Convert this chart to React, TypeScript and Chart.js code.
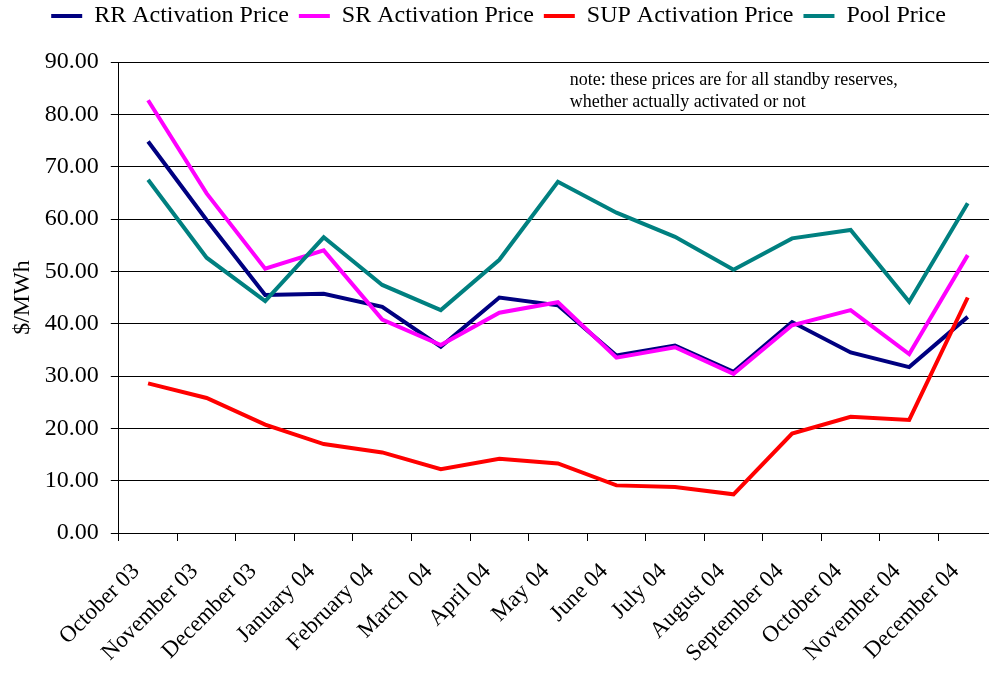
import React, { useEffect, useRef } from "react";
import { Chart, registerables } from "chart.js";

Chart.register(...registerables);

const categories = [
  "October 03", "November 03", "December 03", "January 04", "February 04", "March  04",
  "April 04", "May 04", "June 04", "July 04", "August 04", "September 04",
  "October 04", "November 04", "December 04",
];
const rrActivation = [74.8, 59.8, 45.5, 45.7, 43.2, 35.6, 45.0, 43.5, 33.9, 35.8, 30.8, 40.3, 34.5, 31.7, 41.3];
const srActivation = [82.7, 64.9, 50.5, 54.0, 40.8, 35.9, 42.1, 44.1, 33.5, 35.5, 30.4, 39.7, 42.6, 34.2, 53.1];
const supActivation = [28.6, 25.8, 20.7, 17.0, 15.4, 12.2, 14.2, 13.3, 9.1, 8.8, 7.4, 19.0, 22.2, 21.6, 45.0];
const poolPrice = [67.5, 52.6, 44.3, 56.5, 47.4, 42.6, 52.2, 67.1, 61.2, 56.6, 50.3, 56.3, 57.9, 44.2, 63.0];
const noteLines = [
  "note: these prices are for all standby reserves,",
  "whether actually activated or not",
];

const FONT = "'Liberation Serif', 'Times New Roman', serif";

export default function App() {
  const ref = useRef<HTMLCanvasElement | null>(null);
  useEffect(() => {
    if (!ref.current) return;
    const font = { family: FONT, size: 24 };
    const mk = (label: string, data: number[], color: string, order: number) => ({
      label,
      data,
      borderColor: color,
      backgroundColor: color,
      borderWidth: 4,
      pointRadius: 0,
      tension: 0,
      order,
    });
    const legendSpacer = {
      id: "legendSpacer",
      beforeInit(chart: any) {
        const orig = chart.legend.fit;
        chart.legend.fit = function () {
          orig.bind(chart.legend)();
          this.height += 24;
        };
      },
    };
    const notePlugin = {
      id: "note",
      afterDraw(chart: any) {
        const { ctx, chartArea } = chart;
        ctx.save();
        ctx.font = `18px ${FONT}`;
        ctx.fillStyle = "#000";
        ctx.textBaseline = "alphabetic";
        ctx.textAlign = "left";
        noteLines.forEach((t, i) => {
          ctx.fillText(t, chartArea.left + 451, chartArea.top + 23 + i * 22);
        });
        ctx.restore();
      },
    };
    const chart = new Chart(ref.current, {
      type: "line",
      data: {
        labels: categories,
        datasets: [
          mk("RR Activation Price", rrActivation, "#000080", 4),
          mk("SR Activation Price", srActivation, "#FF00FF", 3),
          mk("SUP Activation Price", supActivation, "#FF0000", 2),
          mk("Pool Price", poolPrice, "#008080", 1),
        ],
      },
      options: {
        animation: false,
        responsive: false,
        maintainAspectRatio: false,
        layout: { padding: { left: 0, right: 0, top: 0, bottom: 0 } },
        plugins: {
          tooltip: { enabled: false },
          legend: {
            position: "top",
            labels: {
              font,
              color: "#000",
              boxWidth: 31,
              boxHeight: 4,
              padding: 10,
              sort: (a: any, b: any) => a.datasetIndex - b.datasetIndex,
              generateLabels: (c: any) =>
                Chart.defaults.plugins.legend.labels.generateLabels(c).map((it: any) => ({
                  ...it,
                  lineWidth: 0,
                  fillStyle: it.strokeStyle,
                })),
            },
          },
        },
        scales: {
          x: {
            offset: true,
            afterFit: (s: any) => {
              s.height = 140;
              s.paddingLeft = 0;
              s.paddingRight = 0;
            },
            grid: { offset: true, drawOnChartArea: false, drawTicks: true, tickLength: 8, color: "#000" },
            border: { color: "#000", width: 1 },
            ticks: {
              autoSkip: false,
              maxRotation: 45,
              minRotation: 45,
              padding: 17,
              labelOffset: -12,
              font: { family: FONT, size: 23 },
              color: "#000",
            },
          },
          y: {
            min: 0,
            max: 90,
            afterFit: (s: any) => {
              s.width -= 8;
            },
            grid: { color: "#000", tickLength: 8, drawTicks: true },
            border: { color: "#000", width: 1 },
            ticks: {
              stepSize: 10,
              padding: 12,
              font,
              color: "#000",
              callback: (v: any) => Number(v).toFixed(2),
            },
            title: { display: true, text: "$/MWh", font, color: "#000", padding: { top: 8, bottom: 4 } },
          },
        },
      },
      plugins: [legendSpacer, notePlugin],
    });
    return () => chart.destroy();
  }, []);
  return (
    <div style={{ position: "fixed", left: 0, top: 0, width: 989, height: 673, overflow: "hidden", background: "#fff" }}>
      <div style={{ position: "absolute", left: 0, top: -6, width: 997, height: 679 }}>
        <canvas ref={ref} width={997} height={679} style={{ width: 997, height: 679, display: "block" }} />
      </div>
    </div>
  );
}
